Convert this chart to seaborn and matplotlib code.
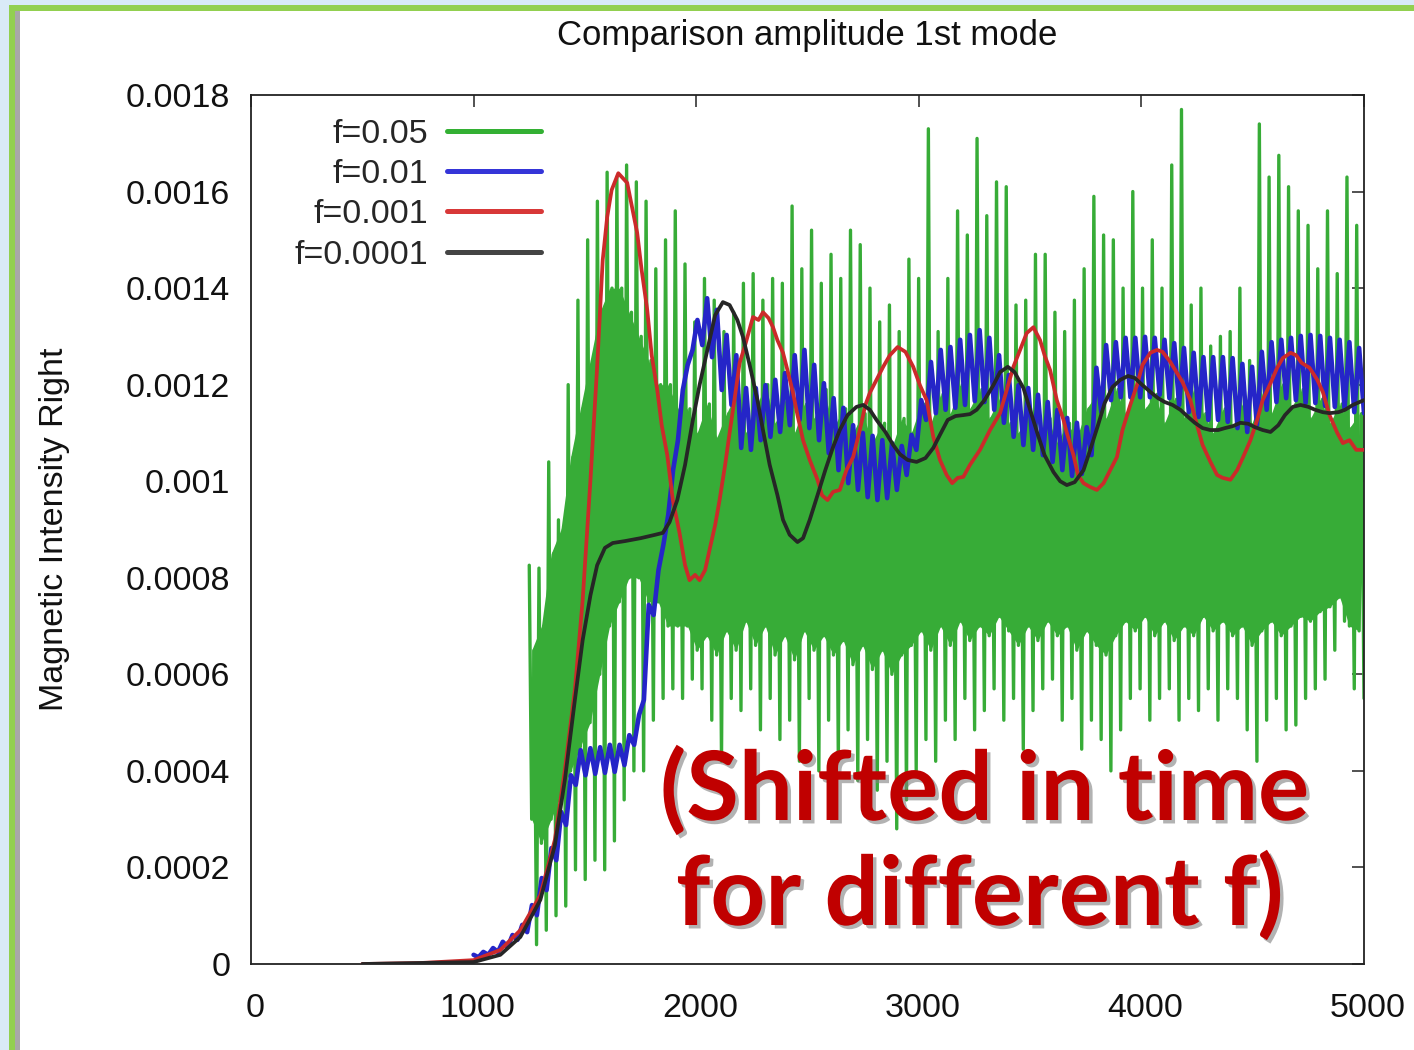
import numpy as np
import pandas as pd
import matplotlib
matplotlib.use("Agg")
import matplotlib.pyplot as plt
from matplotlib.lines import Line2D
from matplotlib.patches import Rectangle
from matplotlib.transforms import ScaledTranslation
import matplotlib.patheffects as pe
import seaborn as sns

# ---------------------------------------------------------------------------
# Data (amplitudes in units of 1e-4)
# ---------------------------------------------------------------------------
SCALE = 1e-4

series_labels = ["f=0.05", "f=0.01", "f=0.001", "f=0.0001"]

# f=0.05 : fast oscillation; each cycle goes top -> core low -> core high -> bottom
green_start, green_end = 1250, 5000
green_tops = [
    8.26, 8.2, 10.4, 9.2, 12.0, 13.75, 15.0, 15.8, 16.4, 16.3,
    16.55, 16.2, 15.8, 14.4, 15.0, 15.6, 14.5, 13.3, 14.2, 13.75,
    13.1, 13.5, 14.1, 14.3, 13.75, 14.2, 14.1, 15.7, 14.4, 15.2,
    14.1, 14.7, 14.2, 15.2, 14.9, 14.0, 13.3, 13.65, 13.1, 14.6,
    14.2, 17.3, 13.1, 14.2, 15.6, 15.1, 17.1, 15.5, 16.2, 16.1,
    13.65, 13.75, 14.7, 14.7, 13.5, 13.1, 13.75, 14.4, 15.9, 15.1,
    15.0, 14.0, 16.0, 14.0, 15.0, 14.0, 16.55, 17.7, 13.65, 14.0,
    12.8, 13.0, 13.1, 14.0, 12.5, 17.4, 16.3, 16.75, 16.1, 15.6,
    15.3, 14.4, 15.6, 14.3, 16.3, 15.3,
]
green_core_lo = [
    3.0, 2.5, 3.0, 3.5, 4.0, 4.5, 5.0, 6.0, 7.0, 7.5,
    8.0, 8.0, 7.5, 7.5, 7.0, 7.0, 7.0, 6.5, 6.8, 6.4,
    6.9, 6.5, 7.1, 6.6, 7.0, 6.4, 6.8, 6.3, 6.9, 6.5,
    6.8, 6.4, 6.7, 6.2, 6.6, 6.1, 6.5, 6.0, 6.4, 6.6,
    6.9, 6.5, 7.0, 6.6, 7.1, 6.7, 7.0, 6.8, 7.2, 6.9,
    6.6, 7.0, 6.7, 7.1, 6.8, 7.0, 6.5, 6.9, 6.6, 6.4,
    6.8, 7.1, 6.9, 7.2, 6.8, 7.1, 6.7, 7.0, 6.8, 7.2,
    6.9, 7.1, 6.8, 7.0, 6.6, 6.9, 7.1, 6.8, 7.0, 7.2,
    7.1, 7.3, 7.4, 7.6, 7.0, 6.9,
]
green_core_hi = [
    6.5, 7.0, 8.5, 9.0, 10.5, 11.5, 12.5, 13.5, 14.0, 14.0,
    13.5, 13.0, 12.5, 12.0, 12.0, 11.5, 11.5, 11.0, 11.6, 10.9,
    11.4, 11.8, 11.0, 11.5, 12.0, 11.2, 11.7, 11.0, 11.6, 11.3,
    11.9, 11.1, 11.5, 11.0, 11.4, 10.8, 11.2, 10.7, 11.3, 11.0,
    11.6, 11.2, 11.8, 11.4, 12.0, 11.5, 11.9, 11.3, 11.7, 11.2,
    11.0, 11.5, 10.9, 11.3, 10.8, 11.2, 10.9, 11.5, 11.8, 11.3,
    11.9, 11.4, 12.0, 11.5, 11.8, 11.2, 11.7, 11.3, 11.9, 11.4,
    11.0, 11.5, 11.1, 11.6, 11.2, 11.8, 11.4, 12.0, 11.5, 11.9,
    11.3, 11.7, 11.2, 11.6, 11.1, 11.4,
]
green_bottoms = [
    0.4, 0.7, 1.0, 1.2, 1.95, 1.75, 2.15, 1.95, 2.55, 3.4,
    4.0, 4.0, 5.05, 5.5, 5.7, 5.5, 5.9, 5.7, 5.05, 4.2,
    5.5, 5.25, 5.7, 4.85, 5.5, 4.65, 5.05, 4.2, 5.5, 4.0,
    5.05, 4.2, 4.85, 3.8, 4.65, 3.6, 4.2, 2.8, 3.4, 4.0,
    4.65, 4.2, 5.05, 4.65, 5.5, 4.85, 5.25, 5.7, 5.05, 5.5,
    4.45, 5.25, 5.7, 5.9, 5.05, 5.5, 4.45, 5.05, 4.65, 4.0,
    4.85, 5.5, 5.7, 5.05, 5.5, 5.7, 5.05, 5.5, 5.25, 5.7,
    5.05, 5.7, 5.5, 4.85, 4.2, 5.05, 5.5, 4.85, 4.95, 5.5,
    5.7, 5.9, 6.5, 7.1, 5.7, 5.5,
]

# f=0.01 : oscillation peaks and troughs
blue_start, blue_end = 1000, 5000
blue_peaks = [
    0.19, 0.25, 0.33, 0.46, 0.60, 0.81, 1.22, 1.78, 2.40, 3.15,
    3.91, 4.43, 4.47, 4.49, 4.54, 4.54, 4.74, 5.16, 7.44, 8.16,
    9.30, 10.85, 12.41, 13.34, 13.79, 13.55, 13.03, 12.61, 11.93, 11.93,
    11.99, 12.10, 12.24, 12.61, 12.72, 12.41, 12.03, 11.72, 11.52, 11.16,
    11.00, 10.94, 10.85, 10.79, 10.73, 10.96, 11.68, 12.47, 12.72, 12.78,
    12.93, 13.03, 13.13, 12.97, 12.61, 12.20, 11.99, 11.93, 11.79, 11.64,
    11.48, 11.31, 11.21, 11.12, 12.35, 12.82, 12.88, 12.97, 12.97, 12.99,
    12.97, 12.93, 12.86, 12.76, 12.66, 12.57, 12.57, 12.57, 12.55, 12.43,
    12.37, 12.68, 12.88, 12.93, 12.97, 13.01, 13.03, 13.01, 12.97, 12.93,
    12.88, 12.76,
]
blue_troughs = [
    0.14, 0.19, 0.25, 0.35, 0.50, 0.66, 1.01, 1.53, 2.15, 2.88,
    3.71, 3.91, 3.94, 3.96, 3.98, 4.12, 4.54, 5.47, 7.23, 8.68,
    10.23, 11.89, 12.72, 12.82, 12.57, 11.89, 11.58, 10.69, 10.65, 10.85,
    10.92, 11.02, 11.16, 11.27, 11.10, 10.85, 10.58, 10.23, 9.96, 9.82,
    9.67, 9.61, 9.65, 9.82, 10.13, 10.65, 11.27, 11.41, 11.48, 11.52,
    11.58, 11.66, 11.64, 11.48, 11.21, 10.92, 10.75, 10.65, 10.54, 10.40,
    10.23, 10.11, 10.15, 10.54, 11.43, 11.68, 11.74, 11.74, 11.74, 11.74,
    11.79, 11.72, 11.58, 11.43, 11.33, 11.27, 11.27, 11.23, 11.10, 11.02,
    11.16, 11.48, 11.64, 11.72, 11.68, 11.62, 11.62, 11.56, 11.54, 11.50,
    11.43, 11.41,
]

# f=0.001
red_t = [
    500, 760, 1000, 1120, 1210, 1300, 1365, 1410, 1455, 1490,
    1525, 1555, 1580, 1600, 1620, 1650, 1670, 1690, 1710, 1735,
    1755, 1780, 1800, 1825, 1845, 1870, 1895, 1925, 1950, 1970,
    1995, 2015, 2040, 2060, 2085, 2105, 2130, 2150, 2175, 2195,
    2220, 2255, 2280, 2300, 2325, 2345, 2365, 2390, 2410, 2435,
    2455, 2480, 2510, 2545, 2565, 2590, 2615, 2645, 2675, 2705,
    2735, 2760, 2780, 2810, 2840, 2870, 2905, 2940, 2975, 3005,
    3035, 3065, 3095, 3125, 3150, 3175, 3200, 3230, 3275, 3320,
    3365, 3395, 3425, 3455, 3485, 3515, 3545, 3565, 3590, 3620,
    3650, 3665, 3695, 3715, 3740, 3770, 3800, 3830, 3860, 3890,
    3915, 3950, 3980, 4005, 4040, 4070, 4095, 4130, 4160, 4185,
    4220, 4250, 4275, 4310, 4340, 4365, 4400, 4430, 4455, 4490,
    4520, 4545, 4580, 4610, 4635, 4670, 4695, 4720, 4755, 4790,
    4815, 4845, 4880, 4905, 4935, 4965, 5000,
]
red_v = [
    0.0, 0.02, 0.08, 0.29, 0.70, 1.43, 2.57, 4.02, 5.68, 7.54,
    10.03, 12.37, 14.58, 15.47, 16.03, 16.38, 16.28, 16.18, 15.72, 15.14,
    14.37, 13.55, 12.61, 11.89, 11.16, 10.54, 9.61, 8.93, 8.26, 7.95,
    8.06, 7.95, 8.16, 8.58, 9.09, 9.61, 10.34, 11.00, 11.79, 12.45,
    12.82, 13.40, 13.34, 13.50, 13.38, 13.19, 12.92, 12.66, 12.30, 11.83,
    11.37, 10.85, 10.44, 10.03, 9.71, 9.61, 9.78, 9.82, 10.23, 10.50,
    11.06, 11.58, 11.83, 12.10, 12.37, 12.61, 12.78, 12.68, 12.37, 11.99,
    11.68, 10.92, 10.44, 10.13, 9.96, 10.07, 10.09, 10.34, 10.65, 11.06,
    11.41, 11.89, 12.37, 12.72, 13.07, 13.19, 12.92, 12.61, 12.30, 11.68,
    11.27, 11.00, 10.54, 10.13, 9.96, 9.88, 9.82, 9.96, 10.23, 10.50,
    11.06, 11.58, 11.99, 12.41, 12.66, 12.72, 12.68, 12.47, 12.24, 12.05,
    11.68, 11.16, 10.75, 10.40, 10.13, 10.07, 10.03, 10.23, 10.48, 10.85,
    11.27, 11.68, 12.03, 12.35, 12.55, 12.66, 12.61, 12.45, 12.35, 12.10,
    11.85, 11.37, 11.00, 10.79, 10.85, 10.65, 10.65,
]

# f=0.0001
black_t = [
    500, 1000, 1120, 1210, 1300, 1365, 1410, 1455, 1490, 1525,
    1555, 1590, 1625, 1680, 1750, 1815, 1850, 1880, 1915, 1950,
    1985, 2015, 2055, 2085, 2120, 2150, 2185, 2210, 2240, 2275,
    2300, 2330, 2365, 2390, 2420, 2455, 2480, 2510, 2545, 2580,
    2615, 2645, 2680, 2720, 2750, 2780, 2810, 2850, 2885, 2915,
    2950, 2990, 3030, 3065, 3095, 3130, 3165, 3200, 3230, 3260,
    3295, 3335, 3365, 3400, 3430, 3470, 3500, 3535, 3565, 3605,
    3635, 3665, 3700, 3740, 3770, 3805, 3835, 3870, 3905, 3940,
    3970, 4005, 4040, 4075, 4105, 4140, 4175, 4210, 4240, 4275,
    4310, 4345, 4375, 4410, 4445, 4480, 4510, 4545, 4580, 4615,
    4645, 4680, 4715, 4750, 4780, 4815, 4845, 4885, 4915, 4950,
    5000,
]
black_v = [
    0.0, 0.04, 0.19, 0.56, 1.33, 2.46, 3.81, 5.47, 6.71, 7.64,
    8.26, 8.62, 8.72, 8.76, 8.82, 8.89, 8.93, 9.15, 9.61, 10.34,
    11.27, 11.99, 12.82, 13.44, 13.71, 13.65, 13.34, 12.99, 12.41, 11.68,
    11.06, 10.34, 9.71, 9.20, 8.89, 8.74, 8.82, 9.20, 9.71, 10.23,
    10.71, 11.06, 11.37, 11.54, 11.58, 11.48, 11.27, 11.02, 10.75, 10.56,
    10.44, 10.40, 10.48, 10.69, 10.96, 11.27, 11.35, 11.37, 11.39, 11.48,
    11.68, 11.99, 12.26, 12.37, 12.26, 11.93, 11.48, 10.96, 10.54, 10.19,
    10.00, 9.92, 9.98, 10.23, 10.65, 11.16, 11.62, 11.95, 12.10, 12.18,
    12.14, 11.99, 11.85, 11.72, 11.64, 11.58, 11.48, 11.33, 11.21, 11.10,
    11.06, 11.06, 11.10, 11.14, 11.21, 11.19, 11.12, 11.06, 11.02, 11.16,
    11.37, 11.54, 11.58, 11.54, 11.48, 11.43, 11.41, 11.43, 11.48, 11.58,
    11.68,
]

x_ticks = [0, 1000, 2000, 3000, 4000, 5000]
x_tick_labels = ["0", "1000", "2000", "3000", "4000", "5000"]
y_ticks = [0, 0.0002, 0.0004, 0.0006, 0.0008, 0.001, 0.0012, 0.0014, 0.0016, 0.0018]
y_tick_labels = ["0", "0.0002", "0.0004", "0.0006", "0.0008", "0.001",
                 "0.0012", "0.0014", "0.0016", "0.0018"]


def interleave(*seqs):
    """Merge equally long sequences element by element: a0, b0, c0, a1, b1, ..."""
    return np.column_stack([np.asarray(s, dtype=float) for s in seqs]).ravel()


green_v = interleave(green_tops, green_core_lo, green_core_hi, green_bottoms)
green_t = np.linspace(green_start, green_end, len(green_v))
green_df = pd.DataFrame({"t": green_t, "v": green_v * SCALE})
# dense core band of the f=0.05 signal, spanned between its core points
core_df = pd.DataFrame({"t": green_t[1::4],
                        "lo": np.asarray(green_core_lo) * SCALE,
                        "hi": np.asarray(green_core_hi) * SCALE})
blue_v = interleave(blue_peaks, blue_troughs)
blue_df = pd.DataFrame({"t": np.linspace(blue_start, blue_end, len(blue_v)),
                        "v": blue_v * SCALE})
red_df = pd.DataFrame({"t": red_t, "v": np.array(red_v) * SCALE})
black_df = pd.DataFrame({"t": black_t, "v": np.array(black_v) * SCALE})

GREEN = "#37ac37"
BLUE = "#2525c8"
RED = "#cc2a2a"
BLACK = "#262626"

# ---------------------------------------------------------------------------
# Figure
# ---------------------------------------------------------------------------
sns.set_style("white")
plt.rcParams["font.family"] = ["Liberation Sans", "DejaVu Sans"]
FS = 24.5

W, H = 1414, 1050
fig = plt.figure(figsize=(W / 100, H / 100), dpi=100)
fig.patch.set_facecolor("#d9eaf7")

# slide frame: green border on top / left, grey shadow, white panel
fig.add_artist(Rectangle((9 / W, 0), 1, 1 - 5 / H, transform=fig.transFigure,
                         facecolor="#92d050", edgecolor="none", zorder=-5))
fig.add_artist(Rectangle((15 / W, 0), 1, 1 - 11 / H, transform=fig.transFigure,
                         facecolor="white", edgecolor="none", zorder=-4))
fig.add_artist(Rectangle((15 / W, 0), 5 / W, 1 - 11 / H, transform=fig.transFigure,
                         facecolor="#a8a8a8", edgecolor="none", zorder=-3))

ax = fig.add_axes([251 / W, 1 - 964 / H, 1113 / W, 869 / H])
ax.set_facecolor("white")

ax.fill_between(core_df["t"], core_df["lo"], core_df["hi"], color=GREEN,
                linewidth=0, zorder=1)
sns.lineplot(data=green_df, x="t", y="v", ax=ax, color=GREEN, linewidth=2.4,
             estimator=None, sort=False, zorder=2)
sns.lineplot(data=blue_df, x="t", y="v", ax=ax, color=BLUE, linewidth=3.3,
             estimator=None, sort=False, zorder=3)
sns.lineplot(data=red_df, x="t", y="v", ax=ax, color=RED, linewidth=2.7,
             estimator=None, sort=False, zorder=4)
sns.lineplot(data=black_df, x="t", y="v", ax=ax, color=BLACK, linewidth=2.7,
             estimator=None, sort=False, zorder=5)

ax.set_xlim(0, 5000)
ax.set_ylim(0, 0.0018)
ax.set_xticks(x_ticks, labels=x_tick_labels)
ax.set_yticks(y_ticks, labels=y_tick_labels)
ax.tick_params(direction="in", length=8.5, width=1.1, color="#222222",
               top=True, right=True, labelsize=FS, labelcolor="#111111")
ax.tick_params(axis="x", pad=21)
ax.tick_params(axis="y", pad=15)
for lab in ax.get_xticklabels():
    lab.set_transform(lab.get_transform() + ScaledTranslation(0.04, 0, fig.dpi_scale_trans))
for s in ax.spines.values():
    s.set_color("#222222")
    s.set_linewidth(1.3)

ax.set_xlabel("")
ax.set_ylabel("Magnetic Intensity Right", fontsize=FS, color="#111111")
ax.yaxis.set_label_coords(-0.1626, 0.5)
ax.set_title("Comparison amplitude 1st mode", fontsize=25, pad=36, color="#111111")

handles = [Line2D([], [], color=c, linewidth=3.6)
           for c in ("#33b033", "#3535d8", "#d83838", "#444444")]
ax.legend(handles, series_labels, loc="upper right", bbox_to_anchor=(0.2606, 0.9724),
          frameon=False, markerfirst=False, handlelength=2.77, handletextpad=0.55,
          labelspacing=0.27, borderpad=0, borderaxespad=0, fontsize=FS)

# annotation on the slide
shadow = [pe.SimplePatchShadow(offset=(2.5, -2.5), shadow_rgbFace="#808080", alpha=0.6),
          pe.Normal()]
for txt, px, py in (("(Shifted in time", 660, 820), ("for different f)", 676, 925)):
    fig.text(px / W, 1 - py / H, txt, fontsize=69, fontweight="bold",
             family=["Lato", "DejaVu Sans"], color="#c00000", ha="left", va="baseline",
             path_effects=shadow)

fig.savefig("out.png", dpi=100, facecolor=fig.get_facecolor())
